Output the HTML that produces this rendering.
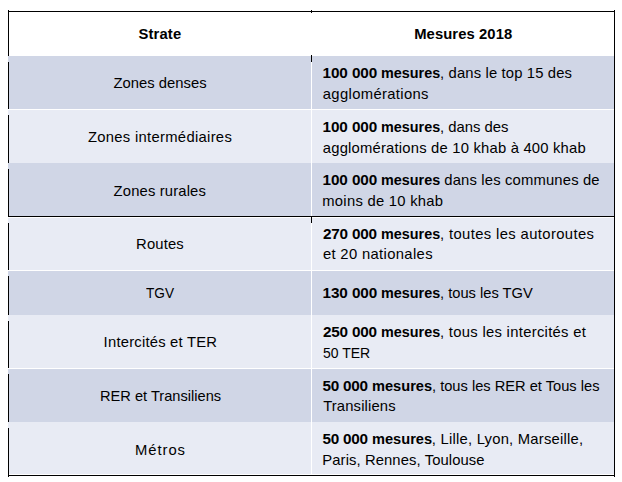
<!DOCTYPE html>
<html lang="fr">
<head>
<meta charset="utf-8">
<title>Mesures 2018</title>
<style>
html,body{margin:0;padding:0;background:#fff;}
body{width:622px;height:482px;position:relative;overflow:hidden;font-family:"Liberation Sans",sans-serif;font-size:14.8px;color:#000;}
.r{position:absolute;left:8px;width:606px;}
.k{position:absolute;background:#000;}
.w{position:absolute;background:#fff;}
.t{position:absolute;white-space:nowrap;line-height:20px;height:20px;transform-origin:0 0;}
.b{font-weight:bold;}
</style>
</head>
<body>
<div class="r" style="top:56px;height:53px;background:#D0D6E6"></div>
<div class="r" style="top:110px;height:53px;background:#E8EBF4"></div>
<div class="r" style="top:163px;height:53px;background:#D0D6E6"></div>
<div class="r" style="top:218px;height:52px;background:#E8EBF4"></div>
<div class="r" style="top:271px;height:44px;background:#D0D6E6"></div>
<div class="r" style="top:315px;height:53px;background:#E8EBF4"></div>
<div class="r" style="top:369px;height:53px;background:#D0D6E6"></div>
<div class="r" style="top:422px;height:52px;background:#E8EBF4"></div>
<div class="w" style="left:311px;top:56px;width:1px;height:419px"></div>
<div class="k" style="left:8px;top:11px;width:607px;height:1px"></div>
<div class="k" style="left:8px;top:216px;width:607px;height:1px"></div>
<div class="k" style="left:8px;top:475px;width:607px;height:1px"></div>
<div class="k" style="left:614px;top:10px;width:1px;height:467px"></div>
<div class="k" style="left:8px;top:10px;width:1px;height:46px"></div>
<div class="k" style="left:8px;top:62px;width:1px;height:47px"></div>
<div class="k" style="left:8px;top:115px;width:1px;height:48px"></div>
<div class="k" style="left:8px;top:169px;width:1px;height:48px"></div>
<div class="k" style="left:8px;top:223px;width:1px;height:47px"></div>
<div class="k" style="left:8px;top:276px;width:1px;height:39px"></div>
<div class="k" style="left:8px;top:321px;width:1px;height:47px"></div>
<div class="k" style="left:8px;top:374px;width:1px;height:48px"></div>
<div class="k" style="left:8px;top:428px;width:1px;height:49px"></div>
<div class="k" style="left:311px;top:10px;width:1px;height:3px"></div>
<div class="k" style="left:311px;top:55px;width:1px;height:7px"></div>
<div class="k" style="left:311px;top:216px;width:1px;height:7px"></div>
<div class="t b" style="left:138.58px;top:24px;letter-spacing:0.119px">Strate</div>
<div class="t" style="left:113.54px;top:73px;letter-spacing:0.006px">Zones denses</div>
<div class="t" style="left:87.95px;top:127px;letter-spacing:0.299px">Zones intermédiaires</div>
<div class="t" style="left:113.61px;top:181px;letter-spacing:0.149px">Zones rurales</div>
<div class="t" style="left:136.11px;top:234px;letter-spacing:0.141px">Routes</div>
<div class="t" style="left:145.99px;top:283px;font-size:15.4px;transform:scaleX(0.8864)">TGV</div>
<div class="t" style="left:103.61px;top:332px;letter-spacing:0.215px">Intercités et TER</div>
<div class="t" style="left:99.68px;top:386px;transform:scaleX(0.9885)">RER et Transiliens</div>
<div class="t" style="left:135.11px;top:440px;letter-spacing:0.927px">Métros</div>
<div class="t b" style="left:414.18px;top:24px;letter-spacing:0.090px">Mesures 2018</div>
<div class="t b" style="left:322.58px;top:63px;font-size:15.3px;letter-spacing:-0.118px">100 000</div>
<div class="t b" style="left:381.09px;top:63px;transform:scaleX(0.9731)">mesures</div>
<div class="t" style="left:440.03px;top:63px;letter-spacing:0.150px">, dans le top 15 des</div>
<div class="t" style="left:322.81px;top:84px;letter-spacing:0.348px">agglomérations</div>
<div class="t b" style="left:322.58px;top:117px;font-size:15.3px;letter-spacing:-0.118px">100 000</div>
<div class="t b" style="left:381.09px;top:117px;transform:scaleX(0.9731)">mesures</div>
<div class="t" style="left:440.10px;top:117px;transform:scaleX(1.0026)">, dans des</div>
<div class="t" style="left:322.81px;top:138px;letter-spacing:0.202px">agglomérations de 10 khab à 400 khab</div>
<div class="t b" style="left:322.58px;top:170px;font-size:15.3px;letter-spacing:-0.118px">100 000</div>
<div class="t b" style="left:381.09px;top:170px;transform:scaleX(0.9731)">mesures</div>
<div class="t" style="left:444.31px;top:170px;letter-spacing:0.165px">dans les communes de</div>
<div class="t" style="left:322.27px;top:191px;letter-spacing:0.267px">moins de 10 khab</div>
<div class="t b" style="left:322.94px;top:224px;font-size:15.3px;letter-spacing:-0.191px">270 000</div>
<div class="t b" style="left:381.09px;top:224px;transform:scaleX(0.9731)">mesures</div>
<div class="t" style="left:440.03px;top:224px;letter-spacing:0.377px">, toutes les autoroutes</div>
<div class="t" style="left:322.88px;top:244px;letter-spacing:0.346px">et 20 nationales</div>
<div class="t b" style="left:322.58px;top:283px;font-size:15.3px;letter-spacing:-0.118px">130 000</div>
<div class="t b" style="left:381.09px;top:283px;transform:scaleX(0.9731)">mesures</div>
<div class="t" style="left:440.14px;top:283px;transform:scaleX(0.9920)">, tous les TGV</div>
<div class="t b" style="left:322.94px;top:322px;font-size:15.3px;letter-spacing:-0.191px">250 000</div>
<div class="t b" style="left:381.09px;top:322px;transform:scaleX(0.9731)">mesures</div>
<div class="t" style="left:440.03px;top:322px;letter-spacing:0.298px">, tous les intercités et</div>
<div class="t" style="left:322.50px;top:343px;font-size:15.4px;transform:scaleX(0.9093)">50 TER</div>
<div class="t b" style="left:322.50px;top:376px;font-size:15.3px;letter-spacing:-0.251px">50 000</div>
<div class="t b" style="left:372.37px;top:376px;transform:scaleX(0.9874)">mesures</div>
<div class="t" style="left:432.26px;top:376px;transform:scaleX(0.9902)">, tous les RER et Tous les</div>
<div class="t" style="left:323.15px;top:396px;letter-spacing:0.149px">Transiliens</div>
<div class="t b" style="left:322.50px;top:429px;font-size:15.3px;letter-spacing:-0.251px">50 000</div>
<div class="t b" style="left:372.37px;top:429px;transform:scaleX(0.9874)">mesures</div>
<div class="t" style="left:431.84px;top:429px;letter-spacing:0.228px">, Lille, Lyon, Marseille,</div>
<div class="t" style="left:322.33px;top:450px;letter-spacing:0.096px">Paris, Rennes, Toulouse</div>
</body>
</html>
